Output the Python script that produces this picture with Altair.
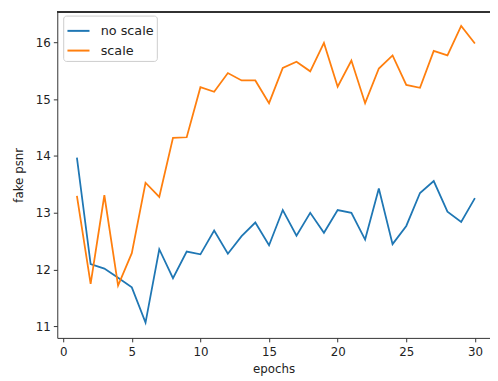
import altair as alt
import pandas as pd

epochs = list(range(1, 31))
no_scale = [13.97, 12.10, 12.02, 11.86, 11.69, 11.07, 12.36, 11.85, 12.32, 12.27,
            12.69, 12.28, 12.59, 12.83, 12.43, 13.05, 12.60, 13.00, 12.65, 13.05,
            13.00, 12.53, 13.43, 12.45, 12.77, 13.35, 13.56, 13.02, 12.84, 13.26]
scale = [13.30, 11.75, 13.31, 11.72, 12.29, 13.53, 13.28, 14.32, 14.33, 15.21,
         15.13, 15.46, 15.33, 15.33, 14.93, 15.55, 15.66, 15.49, 15.99, 15.22,
         15.68, 14.93, 15.54, 15.77, 15.25, 15.20, 15.85, 15.77, 16.29, 15.98]
series_names = ["no scale", "scale"]
x_ticks = [0, 5, 10, 15, 20, 25, 30]
y_ticks = [11, 12, 13, 14, 15, 16]

df = pd.concat([
    pd.DataFrame({"epochs": epochs, "value": no_scale, "series": series_names[0]}),
    pd.DataFrame({"epochs": epochs, "value": scale, "series": series_names[1]}),
])

W, H = 439, 331
font = "DejaVu Sans"

lines = alt.Chart(df).mark_line(strokeWidth=1.8, clip=True).encode(
    x=alt.X("epochs:Q", scale=alt.Scale(domain=[-0.43, 31.1], nice=False, zero=False),
            axis=alt.Axis(values=x_ticks, title="epochs", grid=False, tickSize=4,
                          labelPadding=5, titlePadding=6, format="d")),
    y=alt.Y("value:Q", scale=alt.Scale(domain=[10.80, 16.54], nice=False, zero=False),
            axis=alt.Axis(values=y_ticks, title="fake psnr", grid=False, tickSize=4,
                          labelPadding=3, titlePadding=10, format="d")),
    color=alt.Color("series:N", scale=alt.Scale(domain=series_names, range=["#1f77b4", "#ff7f0e"]),
                    legend=alt.Legend(title=None, orient="none", legendX=6, legendY=4,
                                      symbolType="stroke", symbolSize=500, symbolStrokeWidth=2,
                                      labelFontSize=13, labelFont=font, labelColor="#222",
                                      fillColor="white", strokeColor="#cccccc", cornerRadius=3,
                                      padding=3, rowPadding=-6, labelOffset=10)),
)

top_rule = alt.Chart(df).mark_rule(color="#333333", strokeWidth=1).encode(
    x=alt.value(0), x2=alt.value(W), y=alt.value(0)
)

chart = alt.layer(lines, top_rule).properties(
    width=W, height=H,
    autosize=alt.AutoSizeParams(type="none"),
    padding={"left": 50, "top": 1, "right": 0, "bottom": 40},
).configure_view(stroke=None).configure_axis(
    domainColor="#333333", tickColor="#333333", labelColor="#222222", titleColor="#222222",
    labelFont=font, titleFont=font, labelFontSize=12, titleFontSize=12, titleFontWeight="normal",
    domainWidth=1,
)

chart.save("out.html", embed_options={"renderer": "svg", "actions": False})
